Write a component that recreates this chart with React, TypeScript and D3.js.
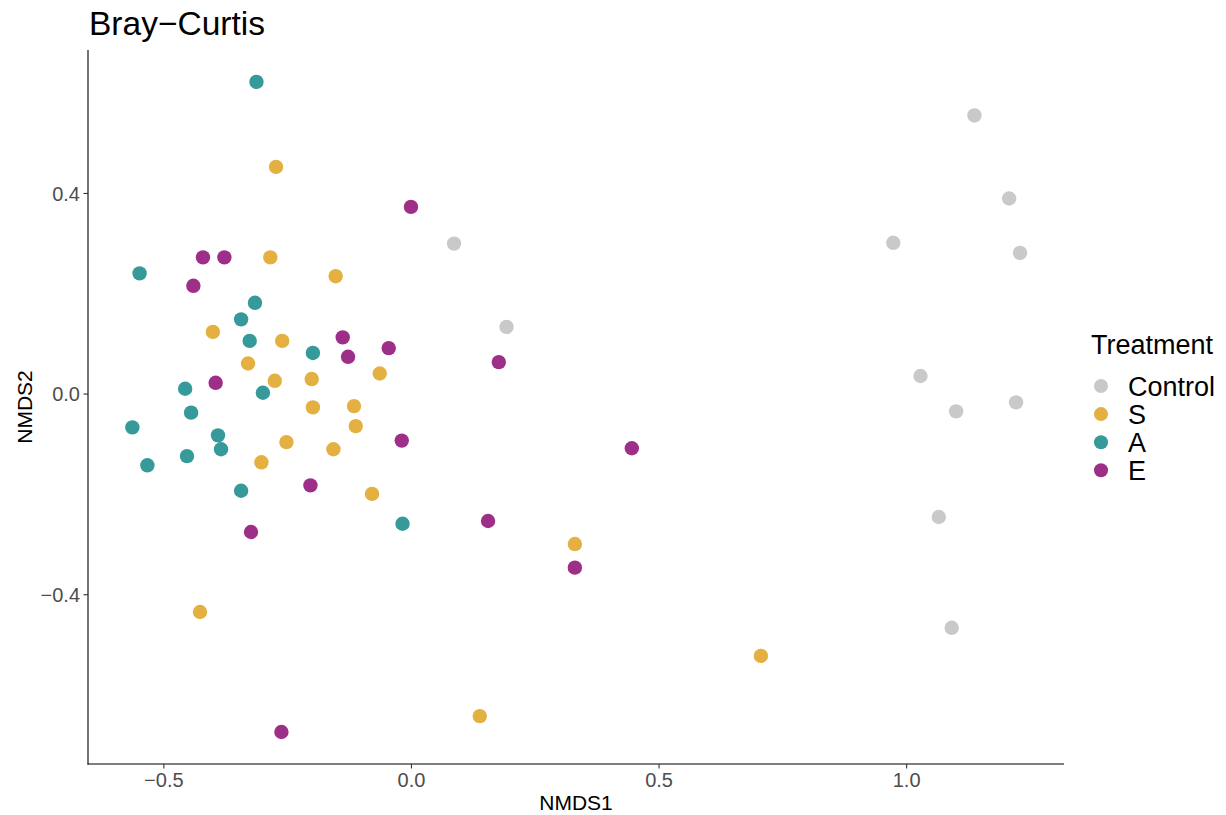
import React from "react";
import * as d3 from "d3";

// NMDS ordination scores (Bray–Curtis) per treatment group
const treatments = ["Control", "S", "A", "E"];
const treatmentColors = ["#C9C9C9", "#E4B042", "#36999A", "#9D2F89"];

const controlNMDS1 = [1.137, 1.207, 0.973, 1.229, 0.086, 0.192, 1.028, 1.100, 1.221, 1.065, 1.091];
const controlNMDS2 = [0.5555, 0.390, 0.3016, 0.2816, 0.300, 0.134, 0.036, -0.0345, -0.0165, -0.245, -0.466];

const sNMDS1 = [-0.2735, -0.285, -0.153, -0.401, -0.261, -0.330, -0.064, -0.276, -0.2014, -0.116, -0.199, -0.1125, -0.2525, -0.1576, -0.303, -0.0796, 0.330, -0.427, 0.7057, 0.138];
const sNMDS2 = [0.453, 0.2725, 0.235, 0.124, 0.106, 0.061, 0.041, 0.0265, 0.030, -0.024, -0.0265, -0.0638, -0.0957, -0.110, -0.136, -0.199, -0.299, -0.4345, -0.522, -0.642];

const aNMDS1 = [-0.313, -0.549, -0.316, -0.344, -0.3267, -0.199, -0.457, -0.300, -0.445, -0.5636, -0.3907, -0.3846, -0.4533, -0.5333, -0.344, -0.018];
const aNMDS2 = [0.6225, 0.2406, 0.182, 0.149, 0.106, 0.082, 0.0106, 0.0026, -0.037, -0.0664, -0.0823, -0.110, -0.1236, -0.142, -0.1927, -0.2585];

const eNMDS1 = [-0.001, -0.421, -0.3778, -0.4404, -0.1388, -0.0459, -0.128, -0.3954, 0.1764, -0.0196, 0.445, -0.204, 0.1547, -0.324, 0.330, -0.2626];
const eNMDS2 = [0.3733, 0.2725, 0.2725, 0.2159, 0.113, 0.0917, 0.0743, 0.0225, 0.0638, -0.0927, -0.108, -0.182, -0.253, -0.275, -0.346, -0.6737];

const xTicks = [-0.5, 0.0, 0.5, 1.0];
const xTickLabels = ["\u22120.5", "0.0", "0.5", "1.0"];
const yTicks = [-0.4, 0.0, 0.4];
const yTickLabels = ["\u22120.4", "0.0", "0.4"];

const groups = [
  { name: treatments[0], xs: controlNMDS1, ys: controlNMDS2, color: treatmentColors[0] },
  { name: treatments[1], xs: sNMDS1, ys: sNMDS2, color: treatmentColors[1] },
  { name: treatments[2], xs: aNMDS1, ys: aNMDS2, color: treatmentColors[2] },
  { name: treatments[3], xs: eNMDS1, ys: eNMDS2, color: treatmentColors[3] },
];

const W = 1226;
const H = 815;
const panel = { left: 88, right: 1064, top: 50, bottom: 764 };
const FONT = "'Liberation Sans', Arial, Helvetica, sans-serif";

export default function App() {
  const x = d3.scaleLinear().domain([-0.6532, 1.3178]).range([panel.left, panel.right]);
  const y = d3.scaleLinear().domain([-0.7375, 0.686]).range([panel.bottom, panel.top]);

  const points = groups.flatMap((g) =>
    g.xs.map((v, i) => ({ x: v, y: g.ys[i], color: g.color, key: `${g.name}-${i}` }))
  );

  const legendX = 1101;
  const legendY0 = 386;
  const legendStep = 28.1;

  return (
    <svg
      width={W}
      height={H}
      viewBox={`0 0 ${W} ${H}`}
      style={{ position: "absolute", left: 0, top: 0, background: "#fff" }}
      fontFamily={FONT}
    >
      <rect x={0} y={0} width={W} height={H} fill="#fff" />

      {/* title */}
      <text x={89} y={35} fontSize={33.5} fill="#000">
        Bray{"\u2212"}Curtis
      </text>

      {/* points */}
      <g>
        {points.map((p) => (
          <circle key={p.key} cx={x(p.x)} cy={y(p.y)} r={7.2} fill={p.color} />
        ))}
      </g>

      {/* axes lines */}
      <line x1={panel.left} x2={panel.left} y1={panel.top} y2={panel.bottom + 0.5} stroke="#000" strokeWidth={1.1} />
      <line x1={panel.left - 0.5} x2={panel.right} y1={panel.bottom} y2={panel.bottom} stroke="#000" strokeWidth={1.1} />

      {/* x ticks */}
      {xTicks.map((t, i) => (
        <g key={`xt${i}`}>
          <line x1={x(t)} x2={x(t)} y1={panel.bottom} y2={panel.bottom + 4.5} stroke="#333" strokeWidth={1.1} />
          <text x={x(t)} y={786.5} fontSize={20} fill="#4D4D4D" textAnchor="middle">
            {xTickLabels[i]}
          </text>
        </g>
      ))}

      {/* y ticks */}
      {yTicks.map((t, i) => (
        <g key={`yt${i}`}>
          <line x1={panel.left - 4.5} x2={panel.left} y1={y(t)} y2={y(t)} stroke="#333" strokeWidth={1.1} />
          <text x={80} y={y(t)} dy="0.36em" fontSize={20} fill="#4D4D4D" textAnchor="end">
            {yTickLabels[i]}
          </text>
        </g>
      ))}

      {/* axis titles */}
      <text x={(panel.left + panel.right) / 2} y={810} fontSize={21} fill="#000" textAnchor="middle">
        NMDS1
      </text>
      <text
        transform={`translate(31.5, ${(panel.top + panel.bottom) / 2}) rotate(-90)`}
        fontSize={21}
        fill="#000"
        textAnchor="middle"
      >
        NMDS2
      </text>

      {/* legend */}
      <text x={1091} y={354} fontSize={27} fill="#000">
        Treatment
      </text>
      {groups.map((g, i) => (
        <g key={`lg${i}`}>
          <circle cx={legendX} cy={legendY0 + i * legendStep} r={7} fill={g.color} />
          <text x={1128} y={legendY0 + i * legendStep} dy="0.36em" fontSize={27} fill="#000">
            {g.name}
          </text>
        </g>
      ))}
    </svg>
  );
}
